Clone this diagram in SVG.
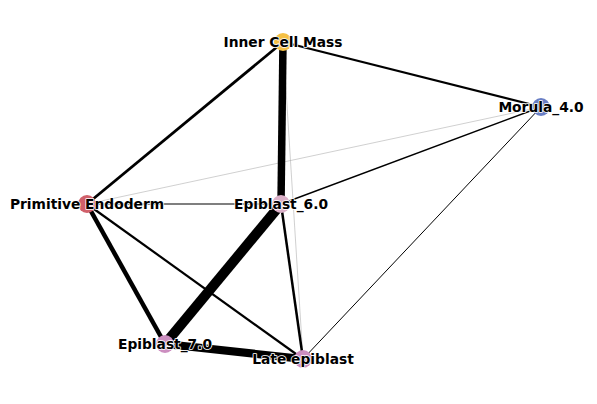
<svg xmlns="http://www.w3.org/2000/svg" width="597" height="404" viewBox="0 0 597 404">
<style>
.e{stroke:#000;stroke-linecap:butt;fill:none}
.g{stroke:#b0b0b0;stroke-width:0.6}
.n{stroke:none}
.t{font-family:"DejaVu Sans",sans-serif;font-weight:bold;font-size:13.8px;text-anchor:middle;fill:#000;stroke:#fff;stroke-width:1.6;stroke-linejoin:round;paint-order:stroke}
</style>
<rect width="597" height="404" fill="#fff"/>
<g id="connectors">
<line class="e g" x1="283" y1="42" x2="303" y2="359"/>
<line class="e g" x1="541" y1="107" x2="87" y2="204"/>
<line class="e" x1="283" y1="42" x2="281" y2="204" stroke-width="7.5"/>
<line class="e" x1="283" y1="42" x2="87" y2="204" stroke-width="2.8"/>
<line class="e" x1="283" y1="42" x2="541" y2="107" stroke-width="2.2"/>
<line class="e" x1="541" y1="107" x2="281" y2="204" stroke-width="1.4"/>
<line class="e" x1="541" y1="107" x2="303" y2="359" stroke-width="1"/>
<line class="e" x1="87" y1="204" x2="281" y2="204" stroke-width="1.2"/>
<line class="e" x1="87" y1="204" x2="165" y2="344" stroke-width="4.5"/>
<line class="e" x1="87" y1="204" x2="303" y2="359" stroke-width="2.2"/>
<line class="e" x1="281" y1="204" x2="165" y2="344" stroke-width="10"/>
<line class="e" x1="281" y1="204" x2="303" y2="359" stroke-width="2.5"/>
<line class="e" x1="165" y1="344" x2="303" y2="359" stroke-width="8"/>
</g>
<g id="node-icm"><circle class="n" cx="283" cy="42" r="9" fill="#f5c044"/><text class="t" x="283" y="47">Inner Cell Mass</text></g>
<g id="node-morula"><circle class="n" cx="541" cy="107" r="9" fill="#6a7fc5"/><text class="t" x="541" y="112">Morula_4.0</text></g>
<g id="node-pe"><circle class="n" cx="87" cy="204" r="9" fill="#d0606a"/><text class="t" x="87" y="209">Primitive Endoderm</text></g>
<g id="node-epi6"><circle class="n" cx="281" cy="204" r="9" fill="#dbb0c8"/><text class="t" x="281" y="209">Epiblast_6.0</text></g>
<g id="node-epi7"><circle class="n" cx="165" cy="344" r="9" fill="#cc8ec0"/><text class="t" x="165" y="349">Epiblast_7.0</text></g>
<g id="node-late"><circle class="n" cx="303" cy="359" r="9" fill="#cc8ec0"/><text class="t" x="303" y="364">Late epiblast</text></g>
</svg>
